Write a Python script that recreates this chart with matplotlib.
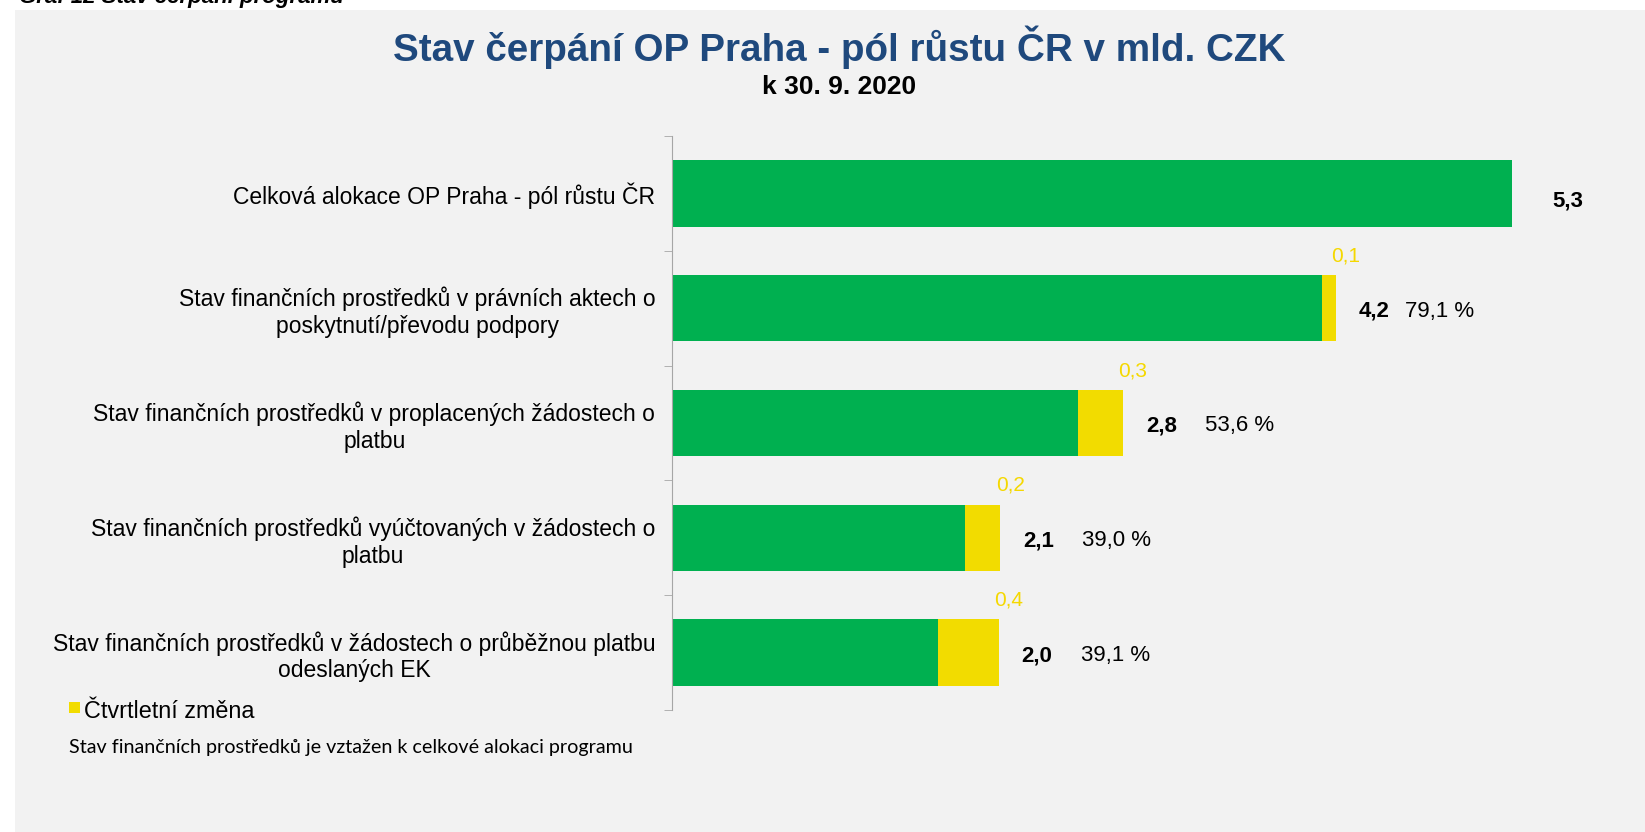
import numpy as np
import matplotlib.pyplot as plt
from matplotlib.patches import Rectangle

plt.rcParams['font.family'] = ['Liberation Sans', 'DejaVu Sans']

# data (mld. CZK)
categories = ['Celková alokace OP Praha - pól růstu ČR',
              'Stav finančních prostředků v právních aktech o\nposkytnutí/převodu podpory',
              'Stav finančních prostředků v proplacených žádostech o\nplatbu',
              'Stav finančních prostředků vyúčtovaných v žádostech o\nplatbu',
              'Stav finančních prostředků v žádostech o průběžnou platbu\nodeslaných EK']
base = [5.3, 4.10, 2.56, 1.85, 1.68]       # stav k minulemu ctvrtleti
change = [0.0, 0.09, 0.285, 0.22, 0.38]    # ctvrtletni zmena
total_lbl = ['5,3', '4,2', '2,8', '2,1', '2,0']
pct_lbl = ['', '79,1 %', '53,6 %', '39,0 %', '39,1 %']
change_lbl = ['', '0,1', '0,3', '0,2', '0,4']

green = '#00b050'
yellow = '#f2dc00'

W, H = 1645, 832
fig = plt.figure(figsize=(W / 100, H / 100), dpi=100)
fig.patch.set_facecolor('white')
fig.patches.append(Rectangle((15 / W, 0), 1, 1 - 10 / H, transform=fig.transFigure,
                             facecolor='#f2f2f2', edgecolor='none', zorder=-5))

# cut-off caption at the very top
fig.text(19 / W, 1 - 3 / H, 'Graf 12 Stav čerpání programu', fontsize=16,
         fontweight='bold', fontstyle='italic', va='baseline', ha='left')

ax = fig.add_axes([672 / W, 122 / H, 951 / W, 574 / H])
ax.set_facecolor('none')

y = np.arange(len(categories))
ax.barh(y, base, height=0.58, color=green, zorder=2)
ax.barh(y, change, left=base, height=0.58, color=yellow, zorder=2)

ax.set_xlim(0, 6)
ax.set_ylim(4.5, -0.5)

for s in ['top', 'right', 'bottom']:
    ax.spines[s].set_visible(False)
ax.spines['left'].set_color('#a6a6a6')
ax.set_xticks([])
ax.set_yticks(y)
ax.set_yticklabels(categories, fontsize=16.5, ha='right', multialignment='center')
ax.tick_params(axis='y', which='major', length=0, pad=12)
ax.set_yticks(np.arange(-0.5, 5.0, 1.0), minor=True)
ax.tick_params(axis='y', which='minor', length=6, color='#a6a6a6', direction='out')

for i in range(len(categories)):
    end = base[i] + change[i]
    gap = 40 if i == 0 else 23
    dy = -8 if i == 0 else -3
    ax.annotate(total_lbl[i], (end, i), xytext=(gap, dy), textcoords='offset pixels',
                ha='left', va='center', fontsize=16, fontweight='bold')
    if pct_lbl[i]:
        pgap = 69 if i == 1 else 82
        ax.annotate(pct_lbl[i], (end, i), xytext=(pgap, dy), textcoords='offset pixels',
                    ha='left', va='center', fontsize=16)
        ax.annotate(change_lbl[i], (end, i - 0.5), xytext=(10, -5), textcoords='offset pixels',
                    ha='center', va='center', fontsize=15, color='#f5d800')

fig.text(839 / W, 1 - 47 / H, 'Stav čerpání OP Praha - pól růstu ČR v mld. CZK',
         ha='center', va='center', fontsize=27.8, fontweight='bold', color='#1f497d')
fig.text(839 / W, 1 - 87 / H, 'k 30. 9. 2020', ha='center', va='center',
         fontsize=19, fontweight='bold')

# legend
fig.patches.append(Rectangle((69 / W, 1 - 713 / H), 11 / W, 11 / H, transform=fig.transFigure,
                             facecolor=yellow, edgecolor='none'))
fig.text(84 / W, 1 - 711 / H, 'Čtvrtletní změna', ha='left', va='center', fontsize=16.8)
fig.text(69 / W, 1 - 748 / H, 'Stav finančních prostředků je vztažen k celkové alokaci programu',
         ha='left', va='center', fontsize=14.2, family=['Lato', 'DejaVu Sans'])

fig.savefig('out.png', dpi=100, facecolor=fig.get_facecolor())
